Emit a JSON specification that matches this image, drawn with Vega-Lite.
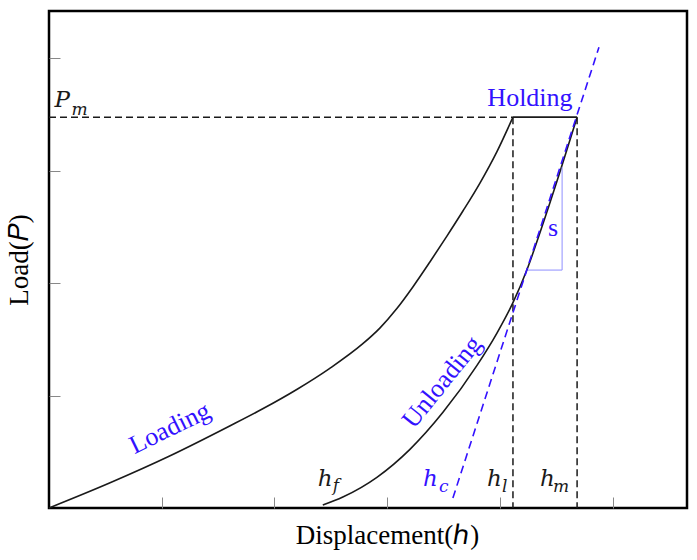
{
  "$schema": "https://vega.github.io/schema/vega-lite/v6.json",
  "width": 638,
  "height": 497,
  "autosize": "none",
  "padding": {"left": 49, "top": 11, "right": 10, "bottom": 52},
  "background": "white",
  "datasets": {
    "curves": [
      {"curve": "Loading", "h": 0.0, "P": 0.0},
      {"curve": "Loading", "h": 0.537, "P": 0.222},
      {"curve": "Loading", "h": 1.07, "P": 0.462},
      {"curve": "Loading", "h": 1.603, "P": 0.729},
      {"curve": "Loading", "h": 1.896, "P": 0.882},
      {"curve": "Loading", "h": 2.198, "P": 1.054},
      {"curve": "Loading", "h": 2.491, "P": 1.242},
      {"curve": "Loading", "h": 2.784, "P": 1.461},
      {"curve": "Loading", "h": 2.935, "P": 1.6},
      {"curve": "Loading", "h": 3.086, "P": 1.774},
      {"curve": "Loading", "h": 3.228, "P": 1.966},
      {"curve": "Loading", "h": 3.379, "P": 2.188},
      {"curve": "Loading", "h": 3.53, "P": 2.418},
      {"curve": "Loading", "h": 3.672, "P": 2.641},
      {"curve": "Loading", "h": 3.823, "P": 2.89},
      {"curve": "Loading", "h": 3.974, "P": 3.17},
      {"curve": "Loading", "h": 4.116, "P": 3.476},
      {"curve": "Holding", "h": 4.116, "P": 3.476},
      {"curve": "Holding", "h": 4.685, "P": 3.476},
      {"curve": "Unloading", "h": 2.429, "P": 0.027},
      {"curve": "Unloading", "h": 2.607, "P": 0.098},
      {"curve": "Unloading", "h": 2.909, "P": 0.273},
      {"curve": "Unloading", "h": 3.202, "P": 0.522},
      {"curve": "Unloading", "h": 3.495, "P": 0.851},
      {"curve": "Unloading", "h": 3.797, "P": 1.268},
      {"curve": "Unloading", "h": 3.974, "P": 1.556},
      {"curve": "Unloading", "h": 4.116, "P": 1.826},
      {"curve": "Unloading", "h": 4.241, "P": 2.121},
      {"curve": "Unloading", "h": 4.356, "P": 2.45},
      {"curve": "Unloading", "h": 4.534, "P": 2.992},
      {"curve": "Unloading", "h": 4.685, "P": 3.476}
    ],
    "guides": [
      {"seg": "Pm", "h": 0.0, "P": 3.476},
      {"seg": "Pm", "h": 4.116, "P": 3.476},
      {"seg": "hl", "h": 4.116, "P": 3.476},
      {"seg": "hl", "h": 4.116, "P": 0.0},
      {"seg": "hm", "h": 4.685, "P": 3.476},
      {"seg": "hm", "h": 4.685, "P": 0.0}
    ],
    "tangent": [
      {"h": 3.583, "P": 0.089},
      {"h": 4.879, "P": 4.098}
    ],
    "triangle": [
      {"k": 1, "h": 4.249, "P": 2.116},
      {"k": 2, "h": 4.552, "P": 2.116},
      {"k": 3, "h": 4.552, "P": 3.031}
    ]
  },
  "layer": [
    {
      "data": {"name": "curves"},
      "mark": {"type": "line", "color": "#1a1a1a", "strokeWidth": 1.6, "interpolate": "monotone"},
      "encoding": {
        "x": {"field": "h", "type": "quantitative", "scale": {"domain": [0, 5.66], "nice": false, "zero": false},
              "axis": {"values": [1, 2, 3, 4, 5], "title": "Displacement(ℎ)", "titleX": 338, "titlePadding": 14}},
        "y": {"field": "P", "type": "quantitative", "scale": {"domain": [0, 4.42], "nice": false, "zero": false},
              "axis": {"values": [1, 2, 3, 4], "title": "Load(𝑃)", "titlePadding": 15}},
        "detail": {"field": "curve", "type": "nominal"}
      }
    },
    {
      "data": {"name": "guides"},
      "mark": {"type": "line", "color": "#1a1a1a", "strokeWidth": 1.5, "strokeDash": [7, 4]},
      "encoding": {
        "x": {"field": "h", "type": "quantitative"},
        "y": {"field": "P", "type": "quantitative"},
        "detail": {"field": "seg", "type": "nominal"}
      }
    },
    {
      "data": {"name": "tangent"},
      "mark": {"type": "line", "color": "#3311ff", "strokeWidth": 1.6, "strokeDash": [8, 5]},
      "encoding": {
        "x": {"field": "h", "type": "quantitative"},
        "y": {"field": "P", "type": "quantitative"}
      }
    },
    {
      "data": {"name": "triangle"},
      "mark": {"type": "line", "color": "#8f8fff", "strokeWidth": 1},
      "encoding": {
        "x": {"field": "h", "type": "quantitative"},
        "y": {"field": "P", "type": "quantitative"},
        "order": {"field": "k", "type": "quantitative"}
      }
    },
    {
      "data": {"values": [
        {"label": "h", "h": 2.385, "P": 0.196},
        {"label": "h", "h": 3.885, "P": 0.196},
        {"label": "h", "h": 4.356, "P": 0.196},
        {"label": "P", "h": 0.049, "P": 3.564}
      ]},
      "mark": {"type": "text", "font": "DejaVu Serif", "fontStyle": "italic", "fontSize": 23, "color": "#1a1a1a", "align": "left", "baseline": "alphabetic"},
      "encoding": {
        "x": {"field": "h", "type": "quantitative"},
        "y": {"field": "P", "type": "quantitative"},
        "text": {"field": "label"}
      }
    },
    {
      "data": {"values": [
        {"label": "f", "h": 2.518, "P": 0.151},
        {"label": "l", "h": 4.019, "P": 0.142},
        {"label": "m", "h": 4.471, "P": 0.142},
        {"label": "m", "h": 0.2, "P": 3.493}
      ]},
      "mark": {"type": "text", "font": "DejaVu Serif", "fontStyle": "italic", "fontSize": 17, "color": "#1a1a1a", "align": "left", "baseline": "alphabetic"},
      "encoding": {
        "x": {"field": "h", "type": "quantitative"},
        "y": {"field": "P", "type": "quantitative"},
        "text": {"field": "label"}
      }
    },
    {
      "data": {"values": [{"label": "h", "h": 3.317, "P": 0.196}]},
      "mark": {"type": "text", "font": "DejaVu Serif", "fontStyle": "italic", "fontSize": 23, "color": "#3311ff", "align": "left", "baseline": "alphabetic"},
      "encoding": {
        "x": {"field": "h", "type": "quantitative"},
        "y": {"field": "P", "type": "quantitative"},
        "text": {"field": "label"}
      }
    },
    {
      "data": {"values": [{"label": "c", "h": 3.459, "P": 0.142}]},
      "mark": {"type": "text", "font": "DejaVu Serif", "fontStyle": "italic", "fontSize": 17, "color": "#3311ff", "align": "left", "baseline": "alphabetic"},
      "encoding": {
        "x": {"field": "h", "type": "quantitative"},
        "y": {"field": "P", "type": "quantitative"},
        "text": {"field": "label"}
      }
    },
    {
      "data": {"values": [
        {"label": "Holding", "h": 4.267, "P": 3.573},
        {"label": "s", "h": 4.472, "P": 2.42}
      ]},
      "mark": {"type": "text", "font": "Liberation Serif", "fontSize": 26, "color": "#3311ff", "align": "center", "baseline": "alphabetic"},
      "encoding": {
        "x": {"field": "h", "type": "quantitative"},
        "y": {"field": "P", "type": "quantitative"},
        "text": {"field": "label"}
      }
    },
    {
      "data": {"values": [{"label": "Loading", "h": 1.072, "P": 0.711}]},
      "mark": {"type": "text", "font": "Liberation Serif", "fontSize": 26, "color": "#3311ff", "align": "center", "baseline": "middle", "angle": 334},
      "encoding": {
        "x": {"field": "h", "type": "quantitative"},
        "y": {"field": "P", "type": "quantitative"},
        "text": {"field": "label"}
      }
    },
    {
      "data": {"values": [{"label": "Unloading", "h": 3.486, "P": 1.12}]},
      "mark": {"type": "text", "font": "Liberation Serif", "fontSize": 26, "color": "#3311ff", "align": "center", "baseline": "middle", "angle": 309},
      "encoding": {
        "x": {"field": "h", "type": "quantitative"},
        "y": {"field": "P", "type": "quantitative"},
        "text": {"field": "label"}
      }
    }
  ],
  "config": {
    "view": {"stroke": "#000", "strokeWidth": 2.5},
    "axis": {
      "labels": false,
      "domain": false,
      "grid": false,
      "ticks": true,
      "tickSize": -11,
      "tickColor": "#888",
      "tickWidth": 1,
      "titleFont": "Liberation Serif",
      "titleFontSize": 27,
      "titleFontWeight": "normal",
      "titleColor": "#000"
    }
  }
}
